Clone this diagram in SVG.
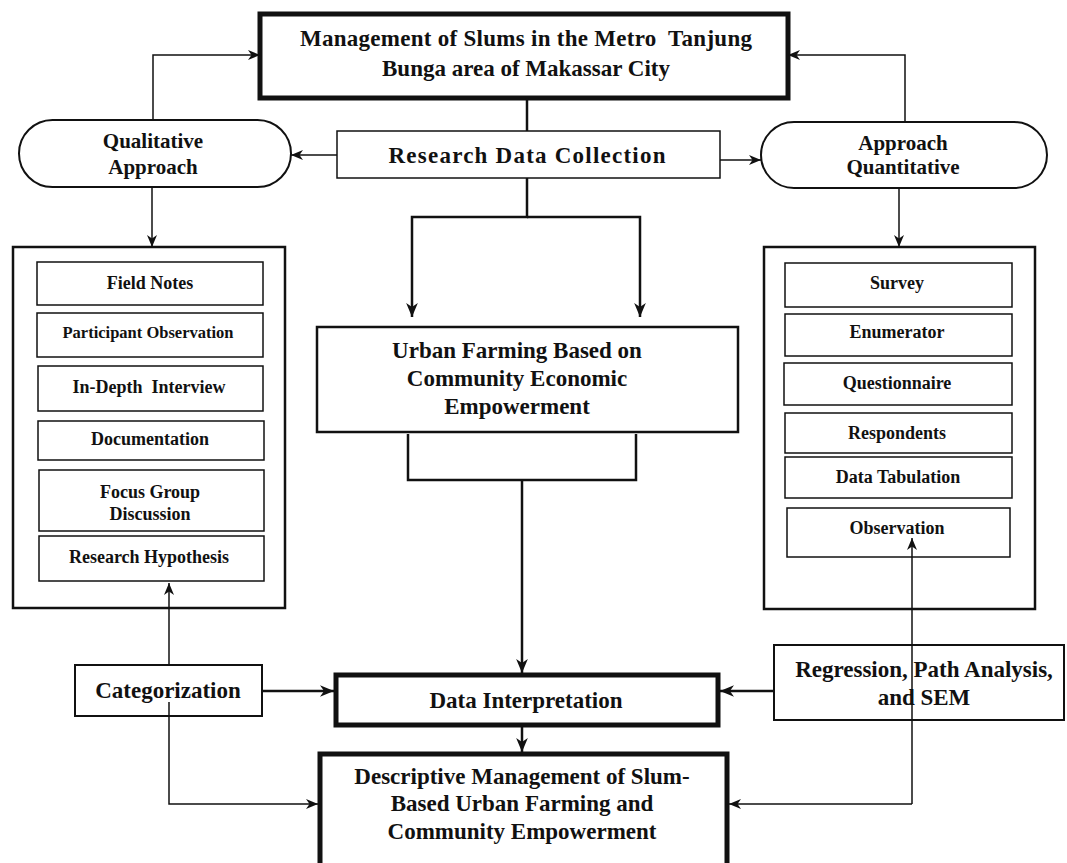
<svg xmlns="http://www.w3.org/2000/svg" width="1067" height="863" viewBox="0 0 1067 863">
<defs>
<style>
text{font-family:"Liberation Serif","Times New Roman",serif;font-weight:bold;fill:#111;text-anchor:middle}
.h{font-size:23px}
.s{font-size:21px}
.i{font-size:18px}
.pre{white-space:pre}
.box{fill:#fff;stroke:#111}
.w1{stroke-width:1.5}
.w2{stroke-width:2}
.w3{stroke-width:2.5}
.w5{stroke-width:5}
.c{fill:none;stroke:#111}
.thin{stroke-width:1.5}
.thick{stroke-width:2.5}
</style>
<marker id="a" viewBox="0 0 12 10" refX="12" refY="5" markerWidth="12" markerHeight="10" markerUnits="userSpaceOnUse" orient="auto">
<path d="M0,0 L12,5 L0,10 L3.5,5 Z" fill="#111"/>
</marker>
<marker id="b" viewBox="0 0 12 10" refX="12" refY="5" markerWidth="14" markerHeight="12" markerUnits="userSpaceOnUse" orient="auto">
<path d="M0,0 L12,5 L0,10 L3.5,5 Z" fill="#111"/>
</marker>
</defs>

<g id="title">
<rect class="box w5" x="260" y="14" width="528" height="84"/>
<text class="h pre" x="526" y="46" textLength="452" lengthAdjust="spacing">Management of Slums in the Metro  Tanjung</text>
<text class="h" x="526" y="76">Bunga area of Makassar City</text>
</g>

<g id="qualitative">
<rect class="box w2" x="19" y="120" width="272" height="67" rx="33.5"/>
<text class="s" x="153" y="148">Qualitative</text>
<text class="s" x="153" y="174">Approach</text>
</g>

<g id="research-data-collection">
<rect class="box w1" x="337" y="131" width="383" height="47"/>
<text class="h" x="527" y="163" textLength="277" lengthAdjust="spacing">Research Data Collection</text>
</g>

<g id="quantitative">
<rect class="box w2" x="761" y="122" width="286" height="66" rx="33"/>
<text class="s" x="903" y="150">Approach</text>
<text class="s" x="903" y="174">Quantitative</text>
</g>

<g id="qualitative-methods">
<rect class="box w3" x="13" y="247" width="272" height="361"/>
<g id="field-notes"><rect class="box w1" x="37" y="262" width="226" height="43"/><text class="i" x="150" y="289">Field Notes</text></g>
<g id="participant-observation"><rect class="box w1" x="37" y="313" width="226" height="44"/><text class="i" x="148" y="338" style="font-size:16.5px">Participant Observation</text></g>
<g id="in-depth-interview"><rect class="box w1" x="38" y="366" width="225" height="45"/><text class="i pre" x="149" y="393">In-Depth  Interview</text></g>
<g id="documentation"><rect class="box w1" x="38" y="421" width="226" height="39"/><text class="i" x="150" y="445">Documentation</text></g>
<g id="focus-group"><rect class="box w1" x="39" y="470" width="225" height="61"/><text class="i" x="150" y="498">Focus Group</text><text class="i" x="150" y="520">Discussion</text></g>
<g id="research-hypothesis"><rect class="box w1" x="39" y="536" width="225" height="45"/><text class="i" x="149" y="563">Research Hypothesis</text></g>
</g>

<g id="quantitative-methods">
<rect class="box w3" x="764" y="247" width="271" height="362"/>
<g id="survey"><rect class="box w1" x="785" y="263" width="227" height="44"/><text class="i" x="897" y="289">Survey</text></g>
<g id="enumerator"><rect class="box w1" x="785" y="314" width="227" height="42"/><text class="i" x="897" y="338">Enumerator</text></g>
<g id="questionnaire"><rect class="box w1" x="784" y="363" width="228" height="42"/><text class="i" x="897" y="389">Questionnaire</text></g>
<g id="respondents"><rect class="box w1" x="785" y="413" width="227" height="40"/><text class="i" x="897" y="439">Respondents</text></g>
<g id="data-tabulation"><rect class="box w1" x="785" y="457" width="227" height="41"/><text class="i" x="898" y="483">Data Tabulation</text></g>
<g id="observation"><rect class="box w1" x="787" y="508" width="223" height="49"/><text class="i" x="897" y="534">Observation</text></g>
</g>

<g id="urban-farming">
<rect class="box w3" x="317" y="327" width="421" height="105"/>
<text class="h" x="517" y="358">Urban Farming Based on</text>
<text class="h" x="517" y="386">Community Economic</text>
<text class="h" x="517" y="414">Empowerment</text>
</g>

<g id="categorization">
<rect class="box w2" x="75" y="665" width="187" height="51"/>
<text class="h" x="168" y="698">Categorization</text>
</g>

<g id="data-interpretation">
<rect class="box w5" x="336" y="675" width="382" height="50"/>
<text class="h" x="526" y="708">Data Interpretation</text>
</g>

<g id="regression">
<rect class="box w2" x="774" y="645" width="290" height="75"/>
<text class="h" x="924" y="677">Regression, Path Analysis,</text>
<text class="h" x="924" y="705">and SEM</text>
</g>

<g id="descriptive">
<rect class="box w5" x="320" y="754" width="407" height="120"/>
<text class="h" x="522" y="784">Descriptive Management of Slum-</text>
<text class="h" x="522" y="811">Based Urban Farming and</text>
<text class="h" x="522" y="839">Community Empowerment</text>
</g>

<g id="connectors">
<path class="c thick" d="M527,98 V131"/>
<path class="c thick" d="M527,178 V217 H412 V317" marker-end="url(#b)"/>
<path class="c thick" d="M527,217 H640 V317" marker-end="url(#b)"/>
<path class="c thin" d="M153,120 V55 H260" marker-end="url(#a)"/>
<path class="c thin" d="M152,187 V247" marker-end="url(#a)"/>
<path class="c thin" d="M337,155 H291" marker-end="url(#a)"/>
<path class="c thin" d="M720,160 H761" marker-end="url(#a)"/>
<path class="c thin" d="M905,122 V55 H788" marker-end="url(#a)"/>
<path class="c thin" d="M899,188 V247" marker-end="url(#a)"/>
<path class="c thick" d="M408,434 V480 H636 V434"/>
<path class="c thick" d="M522,480 V673" marker-end="url(#b)"/>
<path class="c thin" d="M169,665 V583" marker-end="url(#a)"/>
<path class="c thin" d="M169,702 V804 H318" marker-end="url(#a)"/>
<path class="c thick" d="M262,691 H334" marker-end="url(#b)"/>
<path class="c thick" d="M522,725 V752" marker-end="url(#b)"/>
<path class="c thick" d="M774,691 H720" marker-end="url(#b)"/>
<path class="c thin" d="M912,804 V538" marker-end="url(#a)"/>
<path class="c thin" d="M912,804 H729" marker-end="url(#a)"/>
</g>
</svg>
